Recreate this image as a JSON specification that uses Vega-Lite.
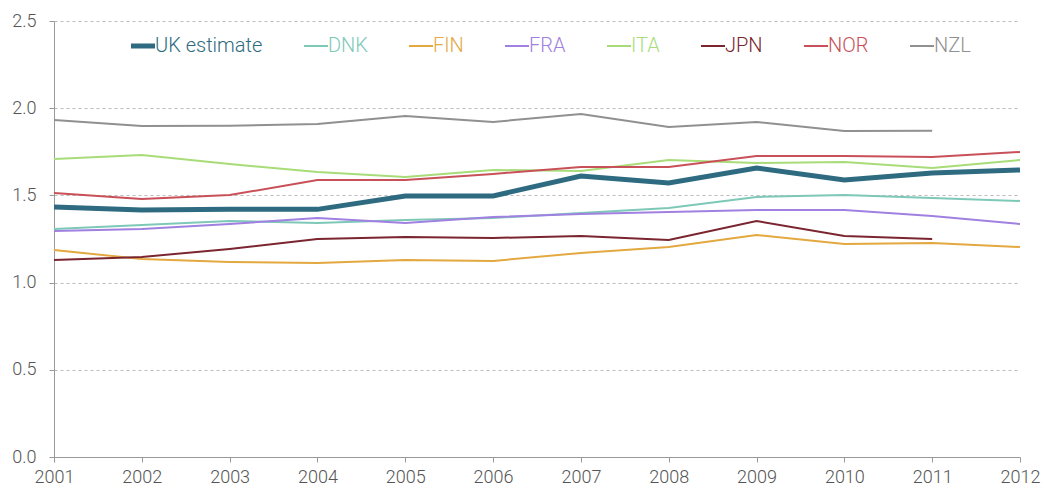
{
  "$schema": "https://vega.github.io/schema/vega-lite/v6.json",
  "width": 966,
  "height": 436,
  "autosize": {"type": "none"},
  "padding": {"left": 54, "top": 21, "right": 21, "bottom": 31},
  "background": "white",
  "config": {
    "view": {"stroke": null},
    "font": "Roboto",
    "axis": {"labelFont": "Roboto", "labelFontSize": 18, "labelColor": "#555555", "labelFontWeight": 300}
  },
  "data": {
    "values": [
      {"country": "UK estimate", "year": 2001, "value": 1.433},
      {"country": "UK estimate", "year": 2002, "value": 1.416},
      {"country": "UK estimate", "year": 2003, "value": 1.42},
      {"country": "UK estimate", "year": 2004, "value": 1.42},
      {"country": "UK estimate", "year": 2005, "value": 1.497},
      {"country": "UK estimate", "year": 2006, "value": 1.497},
      {"country": "UK estimate", "year": 2007, "value": 1.611},
      {"country": "UK estimate", "year": 2008, "value": 1.571},
      {"country": "UK estimate", "year": 2009, "value": 1.657},
      {"country": "UK estimate", "year": 2010, "value": 1.588},
      {"country": "UK estimate", "year": 2011, "value": 1.628},
      {"country": "UK estimate", "year": 2012, "value": 1.646},
      {"country": "DNK", "year": 2001, "value": 1.307},
      {"country": "DNK", "year": 2002, "value": 1.33},
      {"country": "DNK", "year": 2003, "value": 1.353},
      {"country": "DNK", "year": 2004, "value": 1.342},
      {"country": "DNK", "year": 2005, "value": 1.359},
      {"country": "DNK", "year": 2006, "value": 1.37},
      {"country": "DNK", "year": 2007, "value": 1.399},
      {"country": "DNK", "year": 2008, "value": 1.428},
      {"country": "DNK", "year": 2009, "value": 1.491},
      {"country": "DNK", "year": 2010, "value": 1.502},
      {"country": "DNK", "year": 2011, "value": 1.485},
      {"country": "DNK", "year": 2012, "value": 1.468},
      {"country": "FIN", "year": 2001, "value": 1.187},
      {"country": "FIN", "year": 2002, "value": 1.135},
      {"country": "FIN", "year": 2003, "value": 1.118},
      {"country": "FIN", "year": 2004, "value": 1.112},
      {"country": "FIN", "year": 2005, "value": 1.13},
      {"country": "FIN", "year": 2006, "value": 1.124},
      {"country": "FIN", "year": 2007, "value": 1.17},
      {"country": "FIN", "year": 2008, "value": 1.204},
      {"country": "FIN", "year": 2009, "value": 1.273},
      {"country": "FIN", "year": 2010, "value": 1.221},
      {"country": "FIN", "year": 2011, "value": 1.227},
      {"country": "FIN", "year": 2012, "value": 1.204},
      {"country": "FRA", "year": 2001, "value": 1.296},
      {"country": "FRA", "year": 2002, "value": 1.307},
      {"country": "FRA", "year": 2003, "value": 1.336},
      {"country": "FRA", "year": 2004, "value": 1.37},
      {"country": "FRA", "year": 2005, "value": 1.342},
      {"country": "FRA", "year": 2006, "value": 1.376},
      {"country": "FRA", "year": 2007, "value": 1.393},
      {"country": "FRA", "year": 2008, "value": 1.405},
      {"country": "FRA", "year": 2009, "value": 1.416},
      {"country": "FRA", "year": 2010, "value": 1.416},
      {"country": "FRA", "year": 2011, "value": 1.382},
      {"country": "FRA", "year": 2012, "value": 1.336},
      {"country": "ITA", "year": 2001, "value": 1.709},
      {"country": "ITA", "year": 2002, "value": 1.732},
      {"country": "ITA", "year": 2003, "value": 1.68},
      {"country": "ITA", "year": 2004, "value": 1.634},
      {"country": "ITA", "year": 2005, "value": 1.606},
      {"country": "ITA", "year": 2006, "value": 1.646},
      {"country": "ITA", "year": 2007, "value": 1.64},
      {"country": "ITA", "year": 2008, "value": 1.703},
      {"country": "ITA", "year": 2009, "value": 1.686},
      {"country": "ITA", "year": 2010, "value": 1.692},
      {"country": "ITA", "year": 2011, "value": 1.657},
      {"country": "ITA", "year": 2012, "value": 1.703},
      {"country": "JPN", "year": 2001, "value": 1.13},
      {"country": "JPN", "year": 2002, "value": 1.147},
      {"country": "JPN", "year": 2003, "value": 1.193},
      {"country": "JPN", "year": 2004, "value": 1.25},
      {"country": "JPN", "year": 2005, "value": 1.261},
      {"country": "JPN", "year": 2006, "value": 1.256},
      {"country": "JPN", "year": 2007, "value": 1.267},
      {"country": "JPN", "year": 2008, "value": 1.244},
      {"country": "JPN", "year": 2009, "value": 1.353},
      {"country": "JPN", "year": 2010, "value": 1.267},
      {"country": "JPN", "year": 2011, "value": 1.25},
      {"country": "NOR", "year": 2001, "value": 1.514},
      {"country": "NOR", "year": 2002, "value": 1.479},
      {"country": "NOR", "year": 2003, "value": 1.502},
      {"country": "NOR", "year": 2004, "value": 1.588},
      {"country": "NOR", "year": 2005, "value": 1.588},
      {"country": "NOR", "year": 2006, "value": 1.623},
      {"country": "NOR", "year": 2007, "value": 1.663},
      {"country": "NOR", "year": 2008, "value": 1.663},
      {"country": "NOR", "year": 2009, "value": 1.726},
      {"country": "NOR", "year": 2010, "value": 1.726},
      {"country": "NOR", "year": 2011, "value": 1.72},
      {"country": "NOR", "year": 2012, "value": 1.749},
      {"country": "NZL", "year": 2001, "value": 1.932},
      {"country": "NZL", "year": 2002, "value": 1.898},
      {"country": "NZL", "year": 2003, "value": 1.9},
      {"country": "NZL", "year": 2004, "value": 1.909},
      {"country": "NZL", "year": 2005, "value": 1.955},
      {"country": "NZL", "year": 2006, "value": 1.921},
      {"country": "NZL", "year": 2007, "value": 1.967},
      {"country": "NZL", "year": 2008, "value": 1.892},
      {"country": "NZL", "year": 2009, "value": 1.921},
      {"country": "NZL", "year": 2010, "value": 1.869},
      {"country": "NZL", "year": 2011, "value": 1.871}
    ]
  },
  "encoding": {
    "x": {
      "field": "year", "type": "quantitative",
      "scale": {"domain": [2001, 2012], "nice": false, "zero": false},
      "axis": {
        "title": null, "format": "d",
        "values": [2001, 2002, 2003, 2004, 2005, 2006, 2007, 2008, 2009, 2010, 2011, 2012],
        "grid": false, "domainColor": "#999999", "tickColor": "#999999", "tickSize": 5,
        "labelPadding": 6, "labelFlush": false
      }
    },
    "y": {
      "field": "value", "type": "quantitative",
      "scale": {"domain": [0, 2.5], "nice": false},
      "axis": {
        "title": null, "format": ".1f", "values": [0, 0.5, 1, 1.5, 2, 2.5],
        "grid": true, "gridColor": "#bbbbbb", "gridDash": [3, 3], "gridWidth": 1,
        "domainColor": "#999999", "tickColor": "#999999", "tickSize": 5,
        "labelPadding": 13, "labelFlush": false
      }
    },
    "color": {
      "field": "country", "type": "nominal",
      "scale": {
        "domain": ["UK estimate", "DNK", "FIN", "FRA", "ITA", "JPN", "NOR", "NZL"],
        "range": ["#2e6b80", "#7ec8b8", "#e3a83f", "#a080e0", "#a8dc78", "#7a2530", "#c85058", "#909090"]
      },
      "legend": {
        "title": null, "orient": "none", "direction": "horizontal",
        "legendX": 79, "legendY": 15, "padding": 0,
        "symbolType": "stroke", "symbolSize": 576, "symbolStrokeWidth": 2,
        "labelFont": "Roboto", "labelFontSize": 20, "labelFontWeight": 300,
        "labelOffset": 2, "columnPadding": 37,
        "encode": {
          "labels": {"update": {"fill": {"scale": "color", "field": "value"}}},
          "symbols": {"update": {"strokeWidth": {"signal": "datum.value === 'UK estimate' ? 5 : 2"}, "strokeCap": {"value": "butt"}}}
        }
      }
    }
  },
  "layer": [
    {
      "transform": [{"filter": "datum.country !== 'UK estimate'"}],
      "mark": {"type": "line", "strokeWidth": 2}
    },
    {
      "transform": [{"filter": "datum.country === 'UK estimate'"}],
      "mark": {"type": "line", "strokeWidth": 5}
    }
  ]
}
